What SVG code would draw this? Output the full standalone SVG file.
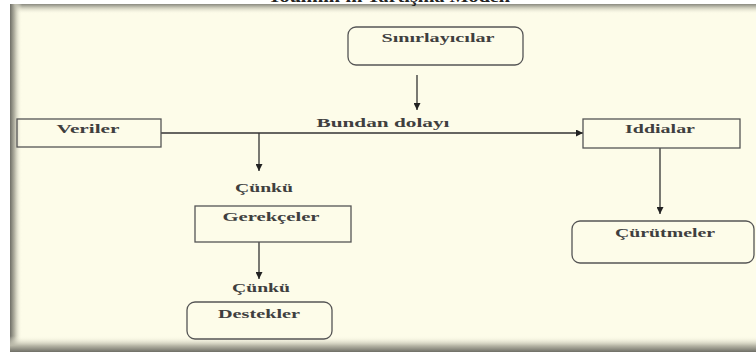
<svg xmlns="http://www.w3.org/2000/svg" width="756" height="352" viewBox="0 0 756 352">
  <style>
    .box { fill: none; stroke: #555; stroke-width: 1.3; }
    .lbl { font-family: "Liberation Serif", "Times New Roman", serif; font-weight: bold; font-size: 13.5px; fill: #3f3f3f; text-anchor: middle; }
    .edge { stroke: #333; stroke-width: 1.3; fill: none; }
  </style>
  <defs>
    <marker id="arr" viewBox="0 0 10 10" refX="10" refY="5" markerWidth="7" markerHeight="7" markerUnits="userSpaceOnUse" orient="auto">
      <path d="M0,0 L10,5 L0,10 z" fill="#222"/>
    </marker>
    <linearGradient id="shTop" x1="0" y1="0" x2="0" y2="1">
      <stop offset="0" stop-color="#8a8a80"/>
      <stop offset="0.35" stop-color="#c9c8b8"/>
      <stop offset="1" stop-color="#fdfce9" stop-opacity="0"/>
    </linearGradient>
    <linearGradient id="shLeft" x1="0" y1="0" x2="1" y2="0">
      <stop offset="0" stop-color="#6e6e66"/>
      <stop offset="0.4" stop-color="#b9b8a8"/>
      <stop offset="1" stop-color="#fdfce9" stop-opacity="0"/>
    </linearGradient>
    <linearGradient id="shBot" x1="0" y1="1" x2="0" y2="0">
      <stop offset="0" stop-color="#6e6e66"/>
      <stop offset="0.4" stop-color="#b8b7a7"/>
      <stop offset="1" stop-color="#fdfce9" stop-opacity="0"/>
    </linearGradient>
  </defs>

  <!-- page and frame -->
  <rect x="0" y="0" width="756" height="352" fill="#fdfce9"/>
  <rect x="0" y="0" width="756" height="4" fill="#ffffff"/>
  <rect x="0" y="0" width="10" height="352" fill="#ffffff"/>
  <rect x="10" y="4" width="746" height="10" fill="url(#shTop)"/>
  <rect x="10" y="4" width="12" height="348" fill="url(#shLeft)"/>
  <rect x="10" y="336" width="746" height="16" fill="url(#shBot)"/>

  <!-- title, running off the top edge -->
  <text x="389" y="2" class="lbl" style="font-size:17px;fill:#222" textLength="242" lengthAdjust="spacingAndGlyphs">Toulmin'in Tartışma Modeli</text>

  <!-- connectors -->
  <g id="connectors">
    <line class="edge" x1="417" y1="75" x2="417" y2="110" marker-end="url(#arr)"/>
    <line class="edge" x1="161" y1="133" x2="583" y2="133" marker-end="url(#arr)"/>
    <line class="edge" x1="259" y1="133" x2="259" y2="171" marker-end="url(#arr)"/>
    <line class="edge" x1="259" y1="242" x2="259" y2="279" marker-end="url(#arr)"/>
    <line class="edge" x1="660" y1="148" x2="660" y2="214" marker-end="url(#arr)"/>
    <text class="lbl" x="383" y="127" textLength="133" lengthAdjust="spacingAndGlyphs">Bundan dolayı</text>
    <text class="lbl" x="264" y="192" textLength="58" lengthAdjust="spacingAndGlyphs">Çünkü</text>
    <text class="lbl" x="261" y="292" textLength="58" lengthAdjust="spacingAndGlyphs">Çünkü</text>
  </g>

  <g id="sinirlayicilar">
    <rect class="box" x="348" y="27" width="175" height="38" rx="8"/>
    <text class="lbl" x="438" y="42" textLength="113" lengthAdjust="spacingAndGlyphs">Sınırlayıcılar</text>
  </g>

  <g id="veriler">
    <rect class="box" x="17" y="119" width="144" height="28"/>
    <text class="lbl" x="88" y="133" textLength="63" lengthAdjust="spacingAndGlyphs">Veriler</text>
  </g>

  <g id="iddialar">
    <rect class="box" x="583" y="119" width="157" height="29"/>
    <text class="lbl" x="660" y="133" textLength="70" lengthAdjust="spacingAndGlyphs">Iddialar</text>
  </g>

  <g id="gerekceler">
    <rect class="box" x="195" y="206" width="156" height="36"/>
    <text class="lbl" x="271" y="221" textLength="97" lengthAdjust="spacingAndGlyphs">Gerekçeler</text>
  </g>

  <g id="destekler">
    <rect class="box" x="187" y="302" width="145" height="37" rx="8"/>
    <text class="lbl" x="259" y="318" textLength="82" lengthAdjust="spacingAndGlyphs">Destekler</text>
  </g>

  <g id="curutmeler">
    <rect class="box" x="572" y="221" width="182" height="42" rx="8"/>
    <text class="lbl" x="665" y="237" textLength="100" lengthAdjust="spacingAndGlyphs">Çürütmeler</text>
  </g>
</svg>
